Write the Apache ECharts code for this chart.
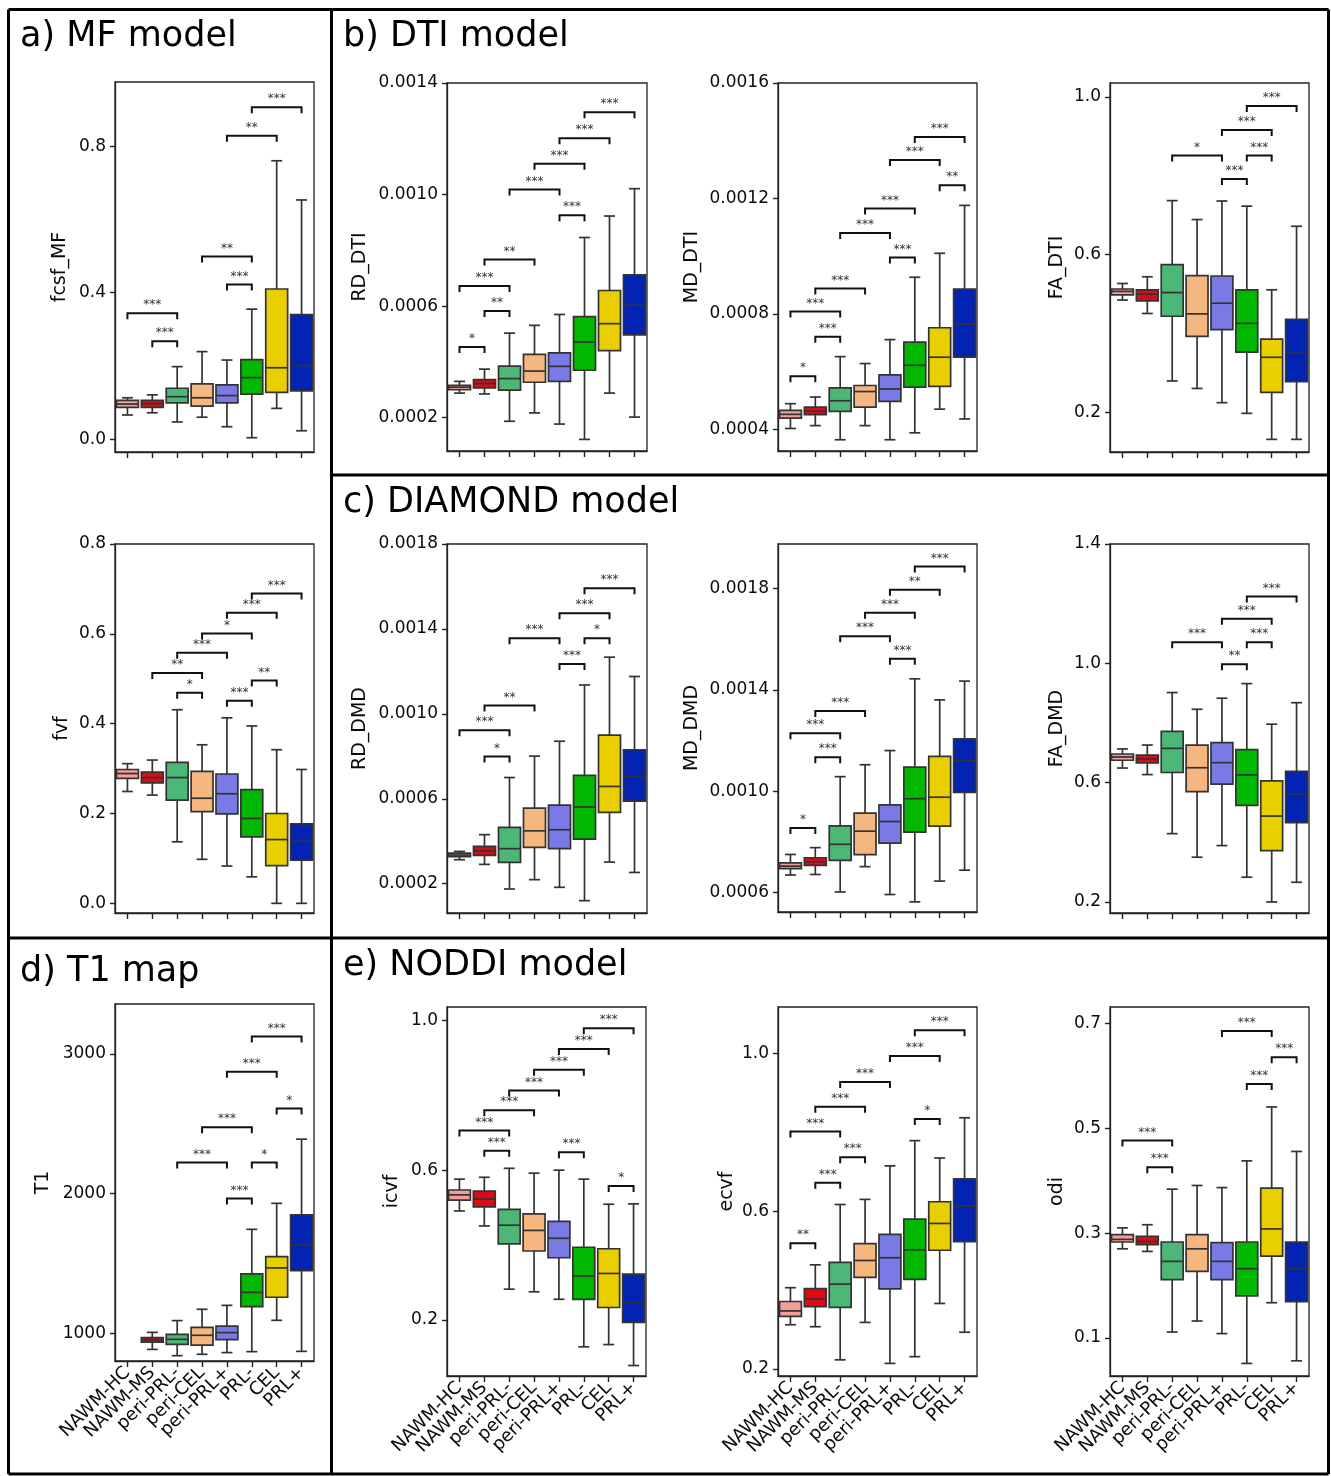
<!DOCTYPE html>
<html>
<head>
<meta charset="utf-8">
<script src="https://cdn.jsdelivr.net/npm/echarts@6/dist/echarts.min.js"></script>
<style>
  html, body { margin: 0; padding: 0; background: #fff; }
  #main { width: 1331px; height: 1476px; }
</style>
</head>
<body>
<div id="main"></div>
<script>
// categories shared by every panel
var CATS = ['NAWM-HC', 'NAWM-MS', 'peri-PRL-', 'peri-CEL', 'peri-PRL+', 'PRL-', 'CEL', 'PRL+'];
var BOX_COLORS = ['#F59E99', '#DD0A14', '#4DB777', '#F5B77F', '#7A7AE6', '#00B800', '#EACF00', '#0323B2'];

// boxes: [whisker low, Q1, median, Q3, whisker high]
// brackets: [from, to, y, stars]

// a) MF model
var fcsfBoxes = [
  [0.066, 0.087, 0.096, 0.106, 0.113],
  [0.072, 0.087, 0.097, 0.106, 0.121],
  [0.047, 0.099, 0.116, 0.139, 0.198],
  [0.060, 0.090, 0.113, 0.151, 0.239],
  [0.034, 0.099, 0.119, 0.148, 0.216],
  [0.004, 0.123, 0.168, 0.217, 0.355],
  [0.084, 0.128, 0.195, 0.410, 0.760],
  [0.023, 0.132, 0.201, 0.340, 0.653]
];
var fcsfBrackets = [[0, 2, 0.344, '***'], [1, 2, 0.267, '***'], [3, 5, 0.499, '**'], [4, 5, 0.422, '***'], [4, 6, 0.828, '**'], [5, 7, 0.906, '***']];
var fcsfTicks = [0, 0.4, 0.8];

var fvfBoxes = [
  [0.249, 0.278, 0.289, 0.298, 0.311],
  [0.241, 0.268, 0.280, 0.292, 0.319],
  [0.137, 0.230, 0.280, 0.314, 0.431],
  [0.098, 0.204, 0.234, 0.294, 0.353],
  [0.083, 0.199, 0.244, 0.288, 0.413],
  [0.059, 0.148, 0.189, 0.253, 0.395],
  [0.000, 0.084, 0.142, 0.200, 0.342],
  [0.000, 0.096, 0.138, 0.177, 0.298]
];
var fvfBrackets = [[2, 3, 0.469, '*'], [1, 3, 0.513, '**'], [2, 4, 0.558, '***'], [3, 5, 0.601, '*'], [4, 6, 0.647, '***'], [5, 7, 0.690, '***'], [4, 5, 0.451, '***'], [5, 6, 0.496, '**']];
var fvfTicks = [0, 0.2, 0.4, 0.6, 0.8];

// d) T1 map (no NAWM-HC box)
var t1Boxes = [
  null,
  [885, 936, 952, 969, 1007],
  [840, 921, 957, 993, 1091],
  [850, 916, 986, 1043, 1172],
  [862, 955, 1005, 1052, 1200],
  [869, 1191, 1293, 1425, 1744],
  [1093, 1258, 1468, 1549, 1930],
  [871, 1449, 1632, 1847, 2389]
];
var t1Brackets = [[4, 5, 1964, '***'], [2, 4, 2222, '***'], [5, 6, 2222, '*'], [3, 5, 2475, '***'], [6, 7, 2608, '*'], [4, 6, 2871, '***'], [5, 7, 3124, '***']];
var t1Ticks = [1000, 2000, 3000];

// b) DTI model
var rdDtiBoxes = [
  [2.88e-4, 3.00e-4, 3.09e-4, 3.16e-4, 3.30e-4],
  [2.85e-4, 3.07e-4, 3.22e-4, 3.36e-4, 3.74e-4],
  [1.87e-4, 2.99e-4, 3.40e-4, 3.85e-4, 5.03e-4],
  [2.17e-4, 3.27e-4, 3.67e-4, 4.27e-4, 5.31e-4],
  [1.77e-4, 3.30e-4, 3.84e-4, 4.32e-4, 5.70e-4],
  [1.22e-4, 3.70e-4, 4.71e-4, 5.62e-4, 8.46e-4],
  [2.88e-4, 4.40e-4, 5.37e-4, 6.56e-4, 9.23e-4],
  [2.02e-4, 4.97e-4, 6.03e-4, 7.12e-4, 10.21e-4]
];
var rdDtiBrackets = [[0, 1, 4.53e-4, '*'], [1, 2, 5.82e-4, '**'], [0, 2, 6.72e-4, '***'], [1, 3, 7.67e-4, '**'], [4, 5, 9.26e-4, '***'], [2, 4, 10.18e-4, '***'], [3, 5, 11.10e-4, '***'], [4, 6, 12.02e-4, '***'], [5, 7, 12.95e-4, '***']];
var rdDtiTicks = [0.0002, 0.0006, 0.0010, 0.0014];

var mdDtiBoxes = [
  [4.03e-4, 4.39e-4, 4.52e-4, 4.66e-4, 4.89e-4],
  [4.13e-4, 4.51e-4, 4.63e-4, 4.77e-4, 5.12e-4],
  [3.64e-4, 4.62e-4, 4.99e-4, 5.44e-4, 6.52e-4],
  [4.13e-4, 4.77e-4, 5.31e-4, 5.52e-4, 6.28e-4],
  [3.64e-4, 4.97e-4, 5.40e-4, 5.89e-4, 7.11e-4],
  [3.88e-4, 5.46e-4, 6.22e-4, 7.02e-4, 9.27e-4],
  [4.70e-4, 5.49e-4, 6.50e-4, 7.52e-4, 10.10e-4],
  [4.36e-4, 6.50e-4, 7.65e-4, 8.86e-4, 11.76e-4]
];
var mdDtiBrackets = [[0, 1, 5.84e-4, '*'], [1, 2, 7.21e-4, '***'], [0, 2, 8.08e-4, '***'], [1, 3, 8.88e-4, '***'], [4, 5, 9.95e-4, '***'], [2, 4, 10.80e-4, '***'], [3, 5, 11.65e-4, '***'], [6, 7, 12.46e-4, '**'], [4, 6, 13.33e-4, '***'], [5, 7, 14.13e-4, '***']];
var mdDtiTicks = [0.0004, 0.0008, 0.0012, 0.0016];

var faDtiBoxes = [
  [0.485, 0.498, 0.507, 0.513, 0.527],
  [0.451, 0.483, 0.500, 0.511, 0.544],
  [0.280, 0.444, 0.504, 0.575, 0.737],
  [0.261, 0.393, 0.450, 0.547, 0.689],
  [0.225, 0.410, 0.477, 0.546, 0.736],
  [0.198, 0.353, 0.426, 0.511, 0.723],
  [0.132, 0.251, 0.340, 0.386, 0.511],
  [0.132, 0.278, 0.350, 0.436, 0.672]
];
var faDtiBrackets = [[4, 5, 0.792, '***'], [2, 4, 0.851, '*'], [5, 6, 0.851, '***'], [4, 6, 0.916, '***'], [5, 7, 0.977, '***']];
var faDtiTicks = [0.2, 0.6, 1.0];

// c) DIAMOND model
var rdDmdBoxes = [
  [3.13e-4, 3.27e-4, 3.35e-4, 3.44e-4, 3.52e-4],
  [2.91e-4, 3.33e-4, 3.55e-4, 3.76e-4, 4.31e-4],
  [1.75e-4, 3.00e-4, 3.65e-4, 4.65e-4, 7.00e-4],
  [2.19e-4, 3.71e-4, 4.49e-4, 5.56e-4, 8.01e-4],
  [1.83e-4, 3.65e-4, 4.54e-4, 5.70e-4, 8.71e-4],
  [1.20e-4, 4.10e-4, 5.61e-4, 7.10e-4, 11.36e-4],
  [3.02e-4, 5.36e-4, 6.58e-4, 9.00e-4, 12.67e-4],
  [2.53e-4, 5.89e-4, 7.05e-4, 8.31e-4, 11.76e-4]
];
var rdDmdBrackets = [[1, 2, 7.99e-4, '*'], [0, 2, 9.23e-4, '***'], [1, 3, 10.39e-4, '**'], [4, 5, 12.35e-4, '***'], [2, 4, 13.56e-4, '***'], [5, 6, 13.56e-4, '*'], [4, 6, 14.74e-4, '***'], [5, 7, 15.91e-4, '***']];
var rdDmdTicks = [0.0002, 0.0006, 0.0010, 0.0014, 0.0018];

var mdDmdBoxes = [
  [6.70e-4, 6.95e-4, 7.05e-4, 7.18e-4, 7.51e-4],
  [6.72e-4, 7.08e-4, 7.22e-4, 7.38e-4, 7.78e-4],
  [6.03e-4, 7.28e-4, 7.91e-4, 8.64e-4, 10.58e-4],
  [7.03e-4, 7.50e-4, 8.43e-4, 9.14e-4, 11.05e-4],
  [5.93e-4, 7.96e-4, 8.81e-4, 9.47e-4, 11.61e-4],
  [5.64e-4, 8.39e-4, 9.71e-4, 10.96e-4, 14.44e-4],
  [6.46e-4, 8.63e-4, 9.77e-4, 11.38e-4, 13.61e-4],
  [6.89e-4, 9.96e-4, 11.22e-4, 12.07e-4, 14.35e-4]
];
var mdDmdBrackets = [[0, 1, 8.55e-4, '*'], [1, 2, 11.35e-4, '***'], [0, 2, 12.29e-4, '***'], [1, 3, 13.17e-4, '***'], [4, 5, 15.23e-4, '***'], [2, 4, 16.12e-4, '***'], [3, 5, 17.05e-4, '***'], [4, 6, 17.95e-4, '**'], [5, 7, 18.87e-4, '***']];
var mdDmdTicks = [0.0006, 0.0010, 0.0014, 0.0018];

var faDmdBoxes = [
  [0.649, 0.675, 0.686, 0.696, 0.713],
  [0.627, 0.666, 0.679, 0.692, 0.726],
  [0.429, 0.634, 0.715, 0.772, 0.902],
  [0.350, 0.570, 0.650, 0.726, 0.846],
  [0.389, 0.595, 0.667, 0.734, 0.883],
  [0.283, 0.524, 0.626, 0.711, 0.932],
  [0.200, 0.372, 0.488, 0.606, 0.796],
  [0.266, 0.466, 0.562, 0.638, 0.868]
];
var faDmdBrackets = [[4, 5, 0.997, '**'], [2, 4, 1.071, '***'], [5, 6, 1.071, '***'], [4, 6, 1.149, '***'], [5, 7, 1.224, '***']];
var faDmdTicks = [0.2, 0.6, 1.0, 1.4];

// e) NODDI model
var icvfBoxes = [
  [0.491, 0.520, 0.534, 0.547, 0.576],
  [0.451, 0.502, 0.523, 0.544, 0.581],
  [0.282, 0.403, 0.453, 0.495, 0.605],
  [0.275, 0.384, 0.439, 0.483, 0.592],
  [0.255, 0.366, 0.418, 0.463, 0.600],
  [0.128, 0.255, 0.317, 0.394, 0.576],
  [0.134, 0.233, 0.324, 0.390, 0.509],
  [0.078, 0.193, 0.246, 0.322, 0.510]
];
var icvfBrackets = [[6, 7, 0.558, '*'], [1, 2, 0.652, '***'], [4, 5, 0.648, '***'], [0, 2, 0.706, '***'], [1, 3, 0.760, '***'], [2, 4, 0.813, '***'], [3, 5, 0.868, '***'], [4, 6, 0.924, '***'], [5, 7, 0.979, '***']];
var icvfTicks = [0.2, 0.6, 1.0];

var ecvfBoxes = [
  [0.312, 0.333, 0.347, 0.371, 0.406],
  [0.307, 0.358, 0.377, 0.404, 0.464],
  [0.223, 0.356, 0.415, 0.470, 0.617],
  [0.318, 0.432, 0.475, 0.518, 0.630],
  [0.214, 0.403, 0.482, 0.541, 0.715],
  [0.231, 0.427, 0.502, 0.580, 0.779],
  [0.366, 0.501, 0.569, 0.624, 0.735],
  [0.293, 0.523, 0.613, 0.682, 0.837]
];
var ecvfBrackets = [[0, 1, 0.519, '**'], [1, 2, 0.672, '***'], [2, 3, 0.737, '***'], [0, 2, 0.802, '***'], [5, 6, 0.834, '*'], [1, 3, 0.865, '***'], [2, 4, 0.928, '***'], [4, 6, 0.994, '***'], [5, 7, 1.059, '***']];
var ecvfTicks = [0.2, 0.6, 1.0];

var odiBoxes = [
  [0.270, 0.283, 0.288, 0.297, 0.310],
  [0.265, 0.278, 0.284, 0.294, 0.316],
  [0.111, 0.211, 0.246, 0.283, 0.384],
  [0.132, 0.227, 0.270, 0.297, 0.391],
  [0.108, 0.211, 0.246, 0.282, 0.387],
  [0.051, 0.180, 0.232, 0.283, 0.438],
  [0.167, 0.256, 0.308, 0.386, 0.541],
  [0.056, 0.169, 0.232, 0.283, 0.456]
];
var odiBrackets = [[1, 2, 0.426, '***'], [0, 2, 0.477, '***'], [5, 6, 0.585, '***'], [6, 7, 0.636, '***'], [4, 6, 0.686, '***']];
var odiTicks = [0.1, 0.3, 0.5, 0.7];

// layout: grid = [left, top, width, height]
var panels = [
  { name: 'fcsf_MF', boxes: fcsfBoxes, brackets: fcsfBrackets, ticks: fcsfTicks, dec: 1, range: [-0.035, 0.975], grid: [115, 82, 199, 370], gap: 45, xl: false },
  { name: 'fvf', boxes: fvfBoxes, brackets: fvfBrackets, ticks: fvfTicks, dec: 1, range: [-0.0215, 0.8], grid: [115, 544, 199, 369], gap: 43, xl: false },
  { name: 'T1', boxes: t1Boxes, brackets: t1Brackets, ticks: t1Ticks, dec: 0, range: [802, 3356], grid: [115, 1004, 199, 357], gap: 62, xl: true },
  { name: 'RD_DTI', boxes: rdDtiBoxes, brackets: rdDtiBrackets, ticks: rdDtiTicks, dec: 4, range: [0.804e-4, 14e-4], grid: [447, 83, 200, 368], gap: 77, xl: false },
  { name: 'MD_DTI', boxes: mdDtiBoxes, brackets: mdDtiBrackets, ticks: mdDtiTicks, dec: 4, range: [3.25e-4, 16e-4], grid: [778, 83, 199, 368], gap: 76, xl: false },
  { name: 'FA_DTI', boxes: faDtiBoxes, brackets: faDtiBrackets, ticks: faDtiTicks, dec: 1, range: [0.100, 1.035], grid: [1110, 83, 199, 369], gap: 43, xl: false },
  { name: 'RD_DMD', boxes: rdDmdBoxes, brackets: rdDmdBrackets, ticks: rdDmdTicks, dec: 4, range: [0.62e-4, 18e-4], grid: [447, 544, 200, 369], gap: 77, xl: false },
  { name: 'MD_DMD', boxes: mdDmdBoxes, brackets: mdDmdBrackets, ticks: mdDmdTicks, dec: 4, range: [5.24e-4, 19.76e-4], grid: [778, 544, 199, 368], gap: 76, xl: false },
  { name: 'FA_DMD', boxes: faDmdBoxes, brackets: faDmdBrackets, ticks: faDmdTicks, dec: 1, range: [0.163, 1.4], grid: [1110, 544, 199, 369], gap: 43, xl: false },
  { name: 'icvf', boxes: icvfBoxes, brackets: icvfBrackets, ticks: icvfTicks, dec: 1, range: [0.05, 1.036], grid: [447, 1007, 199, 369], gap: 45, xl: true },
  { name: 'ecvf', boxes: ecvfBoxes, brackets: ecvfBrackets, ticks: ecvfTicks, dec: 1, range: [0.182, 1.118], grid: [778, 1007, 199, 369], gap: 41, xl: true },
  { name: 'odi', boxes: odiBoxes, brackets: odiBrackets, ticks: odiTicks, dec: 1, range: [0.027, 0.732], grid: [1110, 1007, 199, 369], gap: 43, xl: true }
];

var FONT = 'DejaVu Sans';
var INK = '#0a0a0a';
var EDGE = '#333';

function renderBox(params, api) {
  var i = api.value(0);
  var lo = api.coord([i, api.value(1)]);
  var q1 = api.coord([i, api.value(2)]);
  var md = api.coord([i, api.value(3)]);
  var q3 = api.coord([i, api.value(4)]);
  var hi = api.coord([i, api.value(5)]);
  var band = api.size([1, 0])[0];
  var x = lo[0], hw = band * 0.44, cw = band * 0.22;
  var ln = { stroke: EDGE, lineWidth: 1.7 };
  return {
    type: 'group',
    children: [
      { type: 'line', shape: { x1: x, y1: q3[1], x2: x, y2: hi[1] }, style: ln },
      { type: 'line', shape: { x1: x, y1: q1[1], x2: x, y2: lo[1] }, style: ln },
      { type: 'line', shape: { x1: x - cw, y1: hi[1], x2: x + cw, y2: hi[1] }, style: ln },
      { type: 'line', shape: { x1: x - cw, y1: lo[1], x2: x + cw, y2: lo[1] }, style: ln },
      { type: 'rect', shape: { x: x - hw, y: q3[1], width: 2 * hw, height: q1[1] - q3[1] },
        style: { fill: BOX_COLORS[i], stroke: EDGE, lineWidth: 1.7 } },
      { type: 'line', shape: { x1: x - hw, y1: md[1], x2: x + hw, y2: md[1] }, style: ln }
    ]
  };
}

function makeBracketRender(list) {
  return function (params, api) {
    var a = api.coord([api.value(0), api.value(2)]);
    var b = api.coord([api.value(1), api.value(2)]);
    var leg = 6;
    return {
      type: 'group',
      children: [
        { type: 'polyline', shape: { points: [[a[0], a[1] + leg], [a[0], a[1]], [b[0], b[1]], [b[0], b[1] + leg]] },
          style: { stroke: '#111', lineWidth: 2, fill: null } },
        { type: 'text', x: (a[0] + b[0]) / 2, y: a[1] - 2,
          style: { text: list[params.dataIndex][3], align: 'center', verticalAlign: 'bottom',
                   font: '12px "DejaVu Sans"', fill: '#333' } }
      ]
    };
  };
}

var grids = [], xAxes = [], yAxes = [], series = [];
panels.forEach(function (p, k) {
  grids.push({ left: p.grid[0], top: p.grid[1], width: p.grid[2], height: p.grid[3],
               show: true, borderColor: '#222', borderWidth: 1.3, backgroundColor: 'transparent' });
  xAxes.push({
    gridIndex: k, type: 'category', data: CATS,
    axisLine: { show: true, onZero: false, lineStyle: { color: '#222', width: 1.3 } },
    axisTick: { show: true, alignWithLabel: true, length: 6, lineStyle: { color: '#222', width: 1.4 } },
    axisLabel: { show: p.xl, interval: 0, rotate: 45, margin: 9, fontFamily: FONT, fontSize: 18, color: INK },
    splitLine: { show: false }
  });
  (function (dec) {
    yAxes.push({
      gridIndex: k, type: 'value', min: p.range[0], max: p.range[1],
      name: p.name, nameLocation: 'middle', nameGap: p.gap,
      nameTextStyle: { fontFamily: FONT, fontSize: 19, color: INK },
      axisLine: { show: true, onZero: false, lineStyle: { color: '#222', width: 1.3 } },
      axisTick: { show: true, length: 5, customValues: p.ticks, lineStyle: { color: '#222', width: 1.4 } },
      axisLabel: { customValues: p.ticks, margin: 9, fontFamily: FONT, fontSize: 17, color: INK,
                   formatter: function (v) { return Number(v).toFixed(dec); } },
      splitLine: { show: false }
    });
  })(p.dec);
  var boxData = [];
  p.boxes.forEach(function (b, i) {
    if (b) boxData.push([i, b[0], b[1], b[2], b[3], b[4]]);
  });
  series.push({
    type: 'custom', xAxisIndex: k, yAxisIndex: k, renderItem: renderBox,
    encode: { x: 0, y: [1, 2, 3, 4, 5] }, data: boxData, silent: true
  });
  series.push({
    type: 'custom', xAxisIndex: k, yAxisIndex: k, renderItem: makeBracketRender(p.brackets),
    encode: { x: [0, 1], y: 2 }, data: p.brackets.map(function (b) { return [b[0], b[1], b[2]]; }), silent: true
  });
});

// panel titles and frames
var titles = [
  ['a) MF model', 20, 37], ['b) DTI model', 343, 37], ['c) DIAMOND model', 343, 503],
  ['d) T1 map', 20, 972], ['e) NODDI model', 343, 966]
];
var frameLines = [
  [8.5, 9.5, 1328.5, 9.5], [8.5, 9.5, 8.5, 1474], [1328.5, 9.5, 1328.5, 1474], [8.5, 1474, 1328.5, 1474],
  [331.5, 9.5, 331.5, 1474], [331.5, 475, 1328.5, 475], [8.5, 938, 1328.5, 938]
];
var graphics = [];
frameLines.forEach(function (l) {
  graphics.push({ type: 'line', shape: { x1: l[0], y1: l[1], x2: l[2], y2: l[3] },
                  style: { stroke: '#000', lineWidth: 3 }, silent: true });
});
titles.forEach(function (t) {
  graphics.push({ type: 'text', x: t[1], y: t[2],
                  style: { text: t[0], font: '35px "DejaVu Sans"', fill: '#000', verticalAlign: 'middle' }, silent: true });
});

var chart = echarts.init(document.getElementById('main'), null, { renderer: 'canvas' });
chart.setOption({
  backgroundColor: '#fff',
  animation: false,
  grid: grids,
  xAxis: xAxes,
  yAxis: yAxes,
  series: series,
  graphic: graphics
});
window.onresize = chart.resize;
</script>
</body>
</html>
